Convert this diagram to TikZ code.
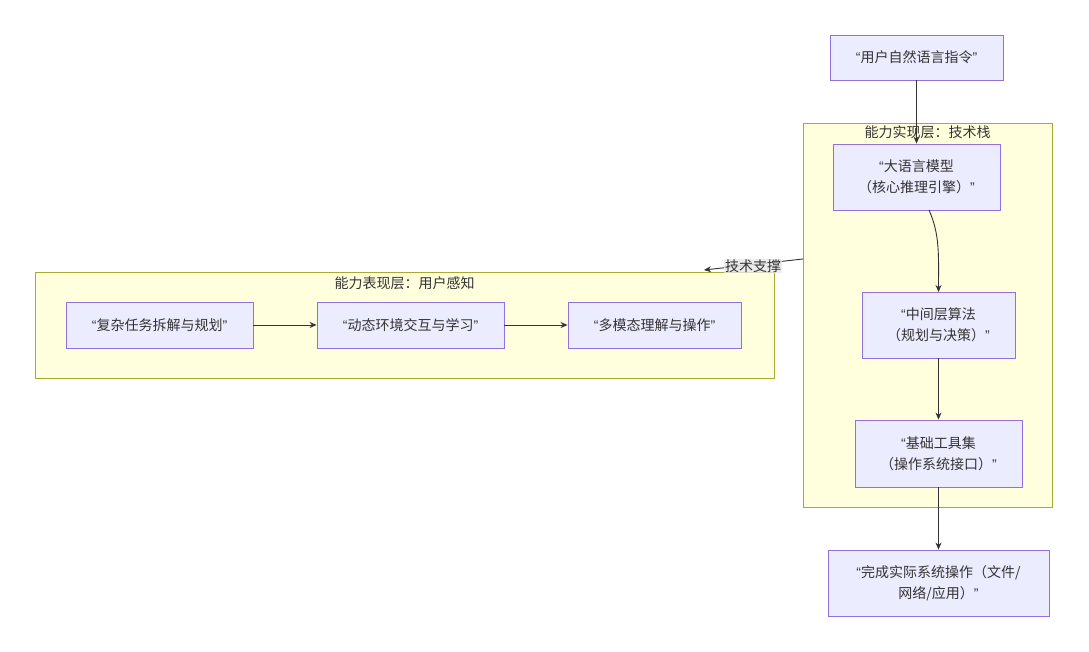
\documentclass[tikz,border=0pt]{standalone}
\usepackage{fontspec}
\setmainfont{Noto Sans CJK SC}
\newfontfamily\qfont{Liberation Sans}
\newcommand{\oq}{{\qfont “}}
\newcommand{\cq}{{\qfont ”}}
\usetikzlibrary{arrows.meta}
\definecolor{nodefill}{HTML}{ECECFF}
\definecolor{nodeline}{HTML}{9370DB}
\definecolor{clfill}{HTML}{FFFFDE}
\definecolor{clline}{HTML}{AAAA33}
\definecolor{txt}{HTML}{333333}
\definecolor{lblbg}{HTML}{E8E8E8}
\tikzset{
  box/.style={draw=nodeline, fill=nodefill, line width=0.9pt, text=txt, font=\fontsize{14}{21}\selectfont, align=center, inner sep=0pt},
  cluster/.style={draw=clline, fill=clfill, line width=0.9pt},
  cltitle/.style={text=txt, font=\fontsize{14}{16}\selectfont},
  arr/.style={draw=txt, line width=0.9pt, -{Stealth[length=7pt,width=6pt]}},
}
\begin{document}
\begin{tikzpicture}[x=1pt,y=-1pt]
\useasboundingbox[fill=white] (0,0) rectangle (1089,652);
% clusters
\node[cluster, minimum width=249, minimum height=384, inner sep=0pt] (right) at (927.5,315) {};
\node[cltitle] (righttitle) at (927.5,132) {能力实现层：技术栈};
\node[cluster, minimum width=739, minimum height=106, inner sep=0pt] (left) at (404.5,325) {};
\node[cltitle] (lefttitle) at (404.5,283) {能力表现层：用户感知};
% nodes
\node[box, minimum width=173, minimum height=45] (user) at (916.5,57.5) {\oq 用户自然语言指令\cq};
\node[box, minimum width=167, minimum height=66] (llm) at (916.5,177) {\oq 大语言模型\\（核心推理引擎）\cq};
\node[box, minimum width=153, minimum height=66] (mid) at (938.5,325) {\oq 中间层算法\\（规划与决策）\cq};
\node[box, minimum width=167, minimum height=67] (tools) at (938.5,453.5) {\oq 基础工具集\\（操作系统接口）\cq};
\node[box, minimum width=221, minimum height=66] (done) at (938.5,583) {\oq 完成实际系统操作（文件/\\网络/应用）\cq};
\node[box, minimum width=187, minimum height=46] (a) at (159.5,325) {\oq 复杂任务拆解与规划\cq};
\node[box, minimum width=187, minimum height=46] (b) at (410.5,325) {\oq 动态环境交互与学习\cq};
\node[box, minimum width=173, minimum height=46] (c) at (654.5,325) {\oq 多模态理解与操作\cq};
% edges
\draw[arr] (user.south) -- (llm.north);
\coordinate (llmout) at (929,210);
\coordinate (midin) at (938.5,292);
\draw[arr] (llmout) .. controls (940,235) and (938.5,255) .. (midin);
\draw[arr] (mid.south) -- (tools.north);
\draw[arr] (tools.south) -- (done.north);
\draw[arr] (a.east) -- (b.west);
\draw[arr] (b.east) -- (c.west);
\coordinate (rs) at (803,259);
\coordinate (le) at (704,270);
\draw[arr] (rs) -- (le);
\node[fill=lblbg, fill opacity=0.8, text opacity=1, text=txt, font=\fontsize{14}{16}\selectfont, inner sep=1pt] (lbl) at (753,266) {技术支撑};
\end{tikzpicture}
\end{document}
